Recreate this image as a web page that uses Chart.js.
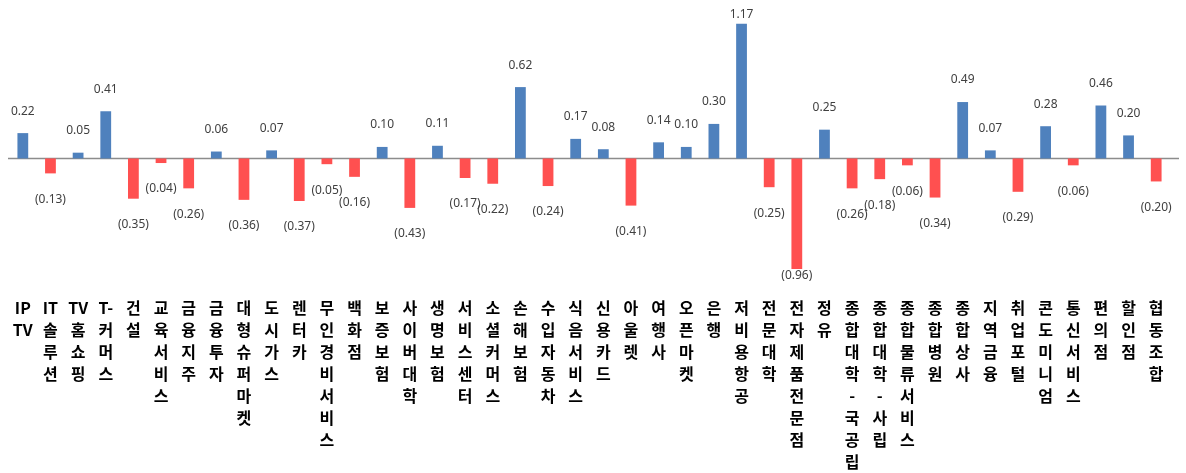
<!DOCTYPE html>
<html><head><meta charset="utf-8">
<script src="https://cdn.jsdelivr.net/npm/chart.js@4/dist/chart.umd.min.js"></script>
<style>html,body{margin:0;padding:0;background:#fff}#wrap{width:1186px;height:473px}</style>
</head><body><div id="wrap"><canvas id="c"></canvas></div>
<script>
const categories = ["IPTV","IT솔루션","TV홈쇼핑","T-커머스","건설","교육서비스","금융지주","금융투자","대형슈퍼마켓","도시가스","렌터카","무인경비서비스","백화점","보증보험","사이버대학","생명보험","서비스센터","소셜커머스","손해보험","수입자동차","식음서비스","신용카드","아울렛","여행사","오픈마켓","은행","저비용항공","전문대학","전자제품전문점","정유","종합대학-국공립","종합대학-사립","종합물류서비스","종합병원","종합상사","지역금융","취업포털","콘도미니엄","통신서비스","편의점","할인점","협동조합"];
const values = [0.22,-0.13,0.05,0.41,-0.35,-0.04,-0.26,0.06,-0.36,0.07,-0.37,-0.05,-0.16,0.10,-0.43,0.11,-0.17,-0.22,0.62,-0.24,0.17,0.08,-0.41,0.14,0.10,0.30,1.17,-0.25,-0.96,0.25,-0.26,-0.18,-0.06,-0.34,0.49,0.07,-0.29,0.28,-0.06,0.46,0.20,-0.20];
const posColor = '#4F81BD';
const negColor = '#FF5050';

const tickLabels = categories.map(s => s.match(/[A-Za-z][A-Za-z\-]?|./g));
const fmt = v => v < 0 ? '(' + Math.abs(v).toFixed(2) + ')' : v.toFixed(2);

const overlay = {
  id: 'overlay',
  beforeDatasetsDraw(chart) {
    const {ctx, chartArea, scales} = chart;
    const y0 = scales.y.getPixelForValue(0);
    ctx.save();
    ctx.strokeStyle = '#8c8c8c';
    ctx.lineWidth = 1.5;
    ctx.beginPath();
    ctx.moveTo(chartArea.left - 1, y0);
    ctx.lineTo(chartArea.right + 9, y0);
    ctx.stroke();
    ctx.restore();
  },
  afterDatasetsDraw(chart) {
    const {ctx, chartArea} = chart;
    const meta = chart.getDatasetMeta(0);
    ctx.save();
    ctx.font = '12px "Noto Sans", "Open Sans", sans-serif';
    ctx.fillStyle = '#404040';
    ctx.textAlign = 'center';
    ctx.textBaseline = 'middle';
    meta.data.forEach((bar, i) => {
      const v = values[i];
      let y;
      if (v >= 0) y = Math.max(bar.y - 22, chartArea.top + 5);
      else y = Math.min(bar.y + 26, chartArea.bottom - 9);
      ctx.fillText(fmt(v), bar.x, y);
    });
    ctx.restore();
  }
};

new Chart(document.getElementById('c'), {
  type: 'bar',
  data: {
    labels: tickLabels,
    datasets: [{
      data: values,
      backgroundColor: values.map(v => v >= 0 ? posColor : negColor),
      borderWidth: 0,
      barPercentage: 0.78,
      categoryPercentage: 0.5
    }]
  },
  options: {
    responsive: true,
    maintainAspectRatio: false,
    animation: false,
    layout: { padding: { left: 9, right: 16, top: 10, bottom: 0 } },
    plugins: { legend: { display: false }, tooltip: { enabled: false } },
    scales: {
      x: {
        grid: { display: false, drawTicks: false },
        border: { display: false },
        afterFit(scale) { scale.height = 188; },
        ticks: {
          autoSkip: false, maxRotation: 0, minRotation: 0, padding: 12,
          color: '#000',
          font: { family: '"Noto Sans CJK KR", sans-serif', size: 16, weight: 'bold', lineHeight: 1.375 }
        }
      },
      y: { display: false, min: -1.1, max: 1.29 }
    }
  },
  plugins: [overlay]
});
</script></body></html>
